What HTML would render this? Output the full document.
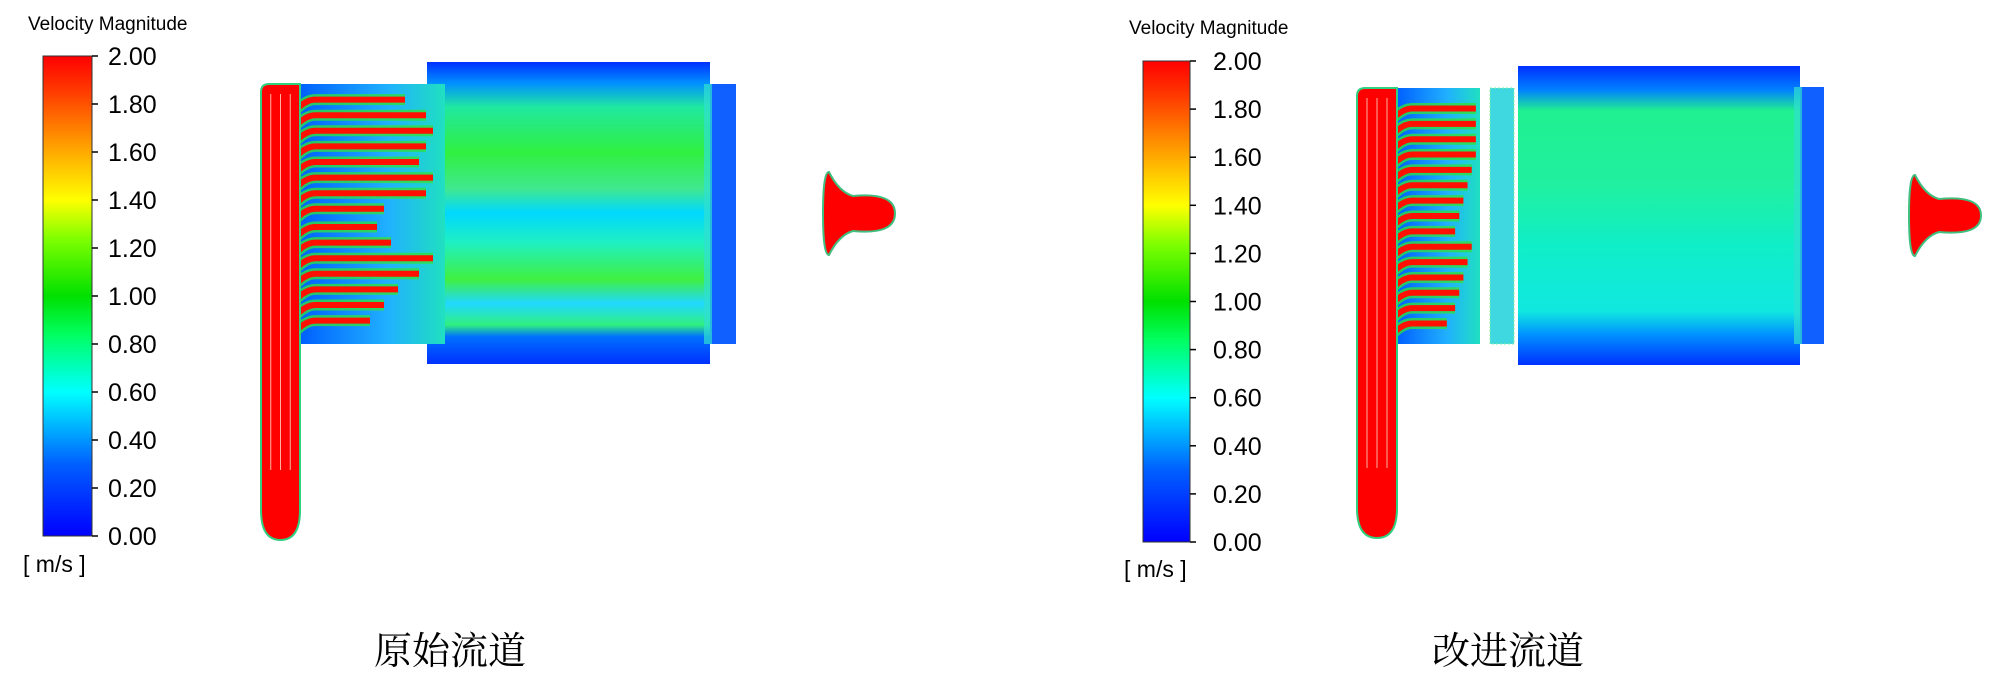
<!DOCTYPE html>
<html><head><meta charset="utf-8">
<style>
html,body{margin:0;padding:0;background:#fff;}
svg{display:block;}
text{font-family:"Liberation Sans","Noto Sans CJK SC",sans-serif;fill:#000;}
.cap{font-family:"Liberation Serif","Noto Serif CJK SC",serif;}
</style></head>
<body>
<svg id="fig" width="2000" height="685" viewBox="0 0 2000 685">
<defs>
<linearGradient id="cbar" x1="0" y1="1" x2="0" y2="0">
<stop offset="0" stop-color="#0000ff"/><stop offset="0.15" stop-color="#0060ff"/>
<stop offset="0.3" stop-color="#00ffff"/><stop offset="0.42" stop-color="#00ff60"/>
<stop offset="0.5" stop-color="#00e000"/><stop offset="0.62" stop-color="#80ff00"/>
<stop offset="0.7" stop-color="#ffff00"/><stop offset="0.82" stop-color="#ff9900"/>
<stop offset="0.92" stop-color="#ff4000"/><stop offset="1" stop-color="#ff0000"/>
</linearGradient>
<linearGradient id="boxL" x1="0" y1="0" x2="0" y2="1">
<stop offset="0" stop-color="#0030ff"/><stop offset="0.07" stop-color="#0090ff"/>
<stop offset="0.15" stop-color="#20e8a0"/><stop offset="0.3" stop-color="#30f040"/>
<stop offset="0.42" stop-color="#40e890"/><stop offset="0.5" stop-color="#00d8ff"/>
<stop offset="0.6" stop-color="#20f0c0"/><stop offset="0.72" stop-color="#40f040"/>
<stop offset="0.8" stop-color="#20d8ff"/><stop offset="0.87" stop-color="#30f080"/>
<stop offset="0.91" stop-color="#0070ff"/><stop offset="1" stop-color="#0030ff"/>
</linearGradient>
<linearGradient id="boxR" x1="0" y1="0" x2="0" y2="1">
<stop offset="0" stop-color="#0030ff"/><stop offset="0.08" stop-color="#0080ff"/>
<stop offset="0.15" stop-color="#20f090"/><stop offset="0.4" stop-color="#20f0a0"/>
<stop offset="0.6" stop-color="#10eec8"/><stop offset="0.82" stop-color="#10e8e0"/>
<stop offset="0.9" stop-color="#0090ff"/><stop offset="1" stop-color="#0030ff"/>
</linearGradient>
<linearGradient id="chanBg" x1="0" y1="0" x2="1" y2="0">
<stop offset="0" stop-color="#0060ff"/><stop offset="0.6" stop-color="#20b0ff"/><stop offset="1" stop-color="#20e0c0"/>
</linearGradient>
</defs>
<g id="panels"></g>
</svg>
<script>
const tickLabels = ["2.00","1.80","1.60","1.40","1.20","1.00","0.80","0.60","0.40","0.20","0.00"];
const jetFracL = [0.06,0.12,0.18,0.24,0.30,0.36,0.42,0.48,0.55,0.61,0.67,0.73,0.79,0.85,0.91];
const jetLenL  = [0.75,0.9,0.95,0.9,0.85,0.95,0.9,0.6,0.55,0.65,0.95,0.85,0.7,0.6,0.5];
const jetFracR = [0.08,0.14,0.20,0.26,0.32,0.38,0.44,0.50,0.56,0.62,0.68,0.74,0.80,0.86,0.92];
const jetLenR  = [0.95,0.95,0.95,0.95,0.9,0.85,0.8,0.75,0.7,0.9,0.85,0.8,0.75,0.7,0.6];
const panels = [
 {name:"original",cap:"原始流道",title:[28,30],cb:[43,56,49,480],lab:108,unit:[23,572],
  man:[261,84,39,456],ch:[300,84,140,260],box:[427,62,283,302],strip:[710,84,26,260],
  out:[823,172,72,83],capX:450,fill:"url(#boxL)",jf:jetFracL,jl:jetLenL,plate:null},
 {name:"improved",cap:"改进流道",title:[1129,34],cb:[1143,61,47,481],lab:1213,unit:[1124,577],
  man:[1357,88,40,450],ch:[1397,88,83,256],box:[1518,66,282,299],strip:[1800,87,24,257],
  out:[1909,175,72,81],capX:1508,fill:"url(#boxR)",jf:jetFracR,jl:jetLenR,plate:[1490,88,24,256]}
];
const NS="http://www.w3.org/2000/svg";
const root=document.getElementById('panels');
function mk(tag,attrs,parent){const e=document.createElementNS(NS,tag);for(const k in attrs)e.setAttribute(k,attrs[k]);(parent||root).appendChild(e);return e;}
panels.forEach(p=>{
 const g=mk('g',{});
 
 
 const t=mk('text',{x:p.title[0],y:p.title[1],'font-size':19},g);t.textContent="Velocity Magnitude";
 
 
 const [cx,cy,cw,chh]=p.cb;
 const cb=mk('rect',{x:cx,y:cy,width:cw,height:chh,fill:'url(#cbar)',stroke:'#333','stroke-width':1},g);
 
 
 const yScale=i=>cy+chh*i/(tickLabels.length-1);
 tickLabels.forEach((l,i)=>{
  mk('line',{x1:cx+cw,x2:cx+cw+6,y1:yScale(i),y2:yScale(i),stroke:'#000','stroke-width':1.5},g);
  const tl=mk('text',{x:p.lab,y:yScale(i)+9,'font-size':25},g);tl.textContent=l;
  
  
 });
 const u=mk('text',{x:p.unit[0],y:p.unit[1],'font-size':23},g);u.textContent="[ m/s ]";
 
 
 const b=mk('rect',{x:p.box[0],y:p.box[1],width:p.box[2],height:p.box[3],fill:p.fill},g);
 
 
 const s=mk('rect',{x:p.strip[0],y:p.strip[1],width:p.strip[2],height:p.strip[3],fill:'#1060ff'},g);
 
 
 mk('rect',{x:p.strip[0]-6,y:p.strip[1],width:8,height:p.strip[3],fill:'#30e0d0',opacity:0.7},g);
 const c=mk('rect',{x:p.ch[0],y:p.ch[1],width:p.ch[2]+(p.plate?0:5),height:p.ch[3],fill:'url(#chanBg)'},g);
 
 
 p.jf.forEach((f,i)=>{
  const y=p.ch[1]+p.ch[3]*f, x0=p.man[0]+p.man[2]*0.5, len=p.ch[2]*p.jl[i];
  const x1=p.ch[0]+len;
  mk('path',{d:`M${x0} ${y+30} Q${p.ch[0]} ${y} ${p.ch[0]+15} ${y} L${x1} ${y}`,stroke:'#30e040','stroke-width':11,fill:'none',opacity:0.8},g);
  const j=mk('path',{d:`M${x0} ${y+30} Q${p.ch[0]} ${y} ${p.ch[0]+15} ${y} L${x1} ${y}`,stroke:'#ff1000','stroke-width':6,fill:'none'},g);
  
  
 });
 if(p.plate){const pl=mk('rect',{x:p.plate[0],y:p.plate[1],width:p.plate[2],height:p.plate[3],fill:'#40d8e0',stroke:'#80f0a0','stroke-dasharray':'2 2'},g);
  
  }
 const [mx,my,mw,mh]=p.man;
 const m=mk('path',{d:`M${mx} ${my+8} Q${mx} ${my} ${mx+8} ${my} L${mx+mw} ${my} L${mx+mw} ${my+mh-30} Q${mx+mw} ${my+mh} ${mx+mw/2} ${my+mh} Q${mx} ${my+mh} ${mx} ${my+mh-30} Z`,fill:'#ff0000',stroke:'#30d080','stroke-width':2},g);
 
 
 for(let k=1;k<4;k++)mk('line',{x1:mx+mw*k/4,x2:mx+mw*k/4,y1:my+10,y2:my+mh-70,stroke:'#ffb0a0','stroke-width':1},g);
 const [ox,oy,ow,oh]=p.out;
 const o=mk('path',{d:`M${ox} ${oy+oh/2} Q${ox} ${oy} ${ox+6} ${oy} Q${ox+16} ${oy+20} ${ox+30} ${oy+24} Q${ox+ow} ${oy+20} ${ox+ow} ${oy+oh/2} Q${ox+ow} ${oy+oh-20} ${ox+30} ${oy+oh-24} Q${ox+16} ${oy+oh-20} ${ox+6} ${oy+oh} Q${ox} ${oy+oh} ${ox} ${oy+oh/2} Z`,fill:'#ff0000',stroke:'#40c080','stroke-width':2},g);
 
 
 const cp=mk('text',{x:p.capX,y:664,'font-size':38,'text-anchor':'middle',class:'cap'},g);cp.textContent=p.cap;
 
 
});
</script>
</body></html>
